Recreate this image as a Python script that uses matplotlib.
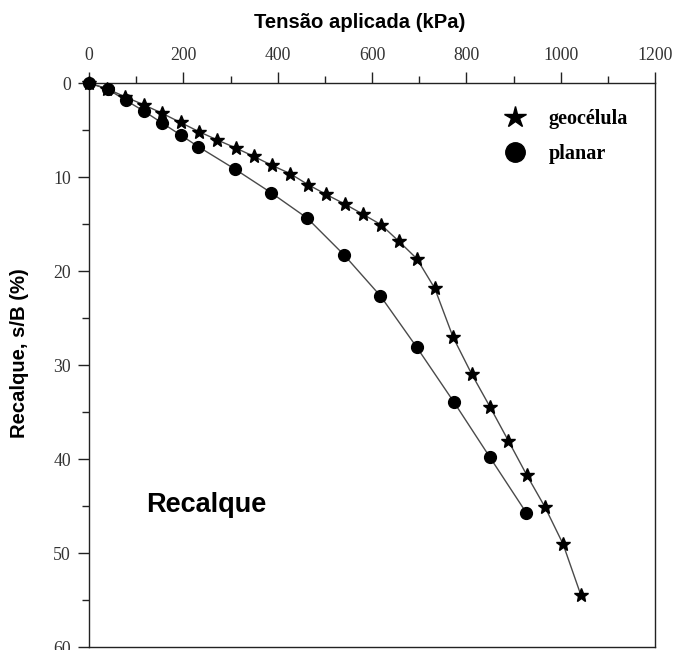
import matplotlib
matplotlib.use("Agg")
import matplotlib.pyplot as plt
from matplotlib.lines import Line2D
from matplotlib.ticker import MultipleLocator

# Data (Tensão aplicada in kPa, Recalque s/B in %)
geo_x = [0, 38, 76, 117, 155, 194, 233, 272, 311, 349, 387, 426, 464, 503, 542,
         580, 619, 657, 695, 733, 772, 811, 850, 889, 928, 967, 1005, 1043]
geo_y = [0, 0.6, 1.46, 2.34, 3.22, 4.20, 5.17, 6.06, 6.91, 7.80, 8.74, 9.63, 10.80,
         11.86, 12.87, 13.94, 15.07, 16.84, 18.69, 21.84, 27.05, 30.93, 34.44,
         38.05, 41.70, 45.14, 49.04, 54.50]

plan_x = [0, 40, 78, 116, 154, 195, 232, 310, 386, 463, 541, 618, 695, 774, 850, 927]
plan_y = [0, 0.67, 1.84, 2.98, 4.22, 5.56, 6.78, 9.18, 11.67, 14.39, 18.30, 22.66,
          28.12, 33.97, 39.82, 45.71]

xticks = [0, 200, 400, 600, 800, 1000, 1200]
yticks = [0, 10, 20, 30, 40, 50, 60]

fig = plt.figure(figsize=(6.73, 6.5), dpi=100)
ax = fig.add_axes([89/673, 1-647/650, 566/673, 564/650])

line_col = "#4a4a4a"
ax.plot(geo_x, geo_y, color=line_col, lw=1.0, zorder=2)
ax.plot(plan_x, plan_y, color=line_col, lw=1.0, zorder=2)
ax.plot(geo_x, geo_y, ls="none", marker="*", ms=10, color="black", zorder=3,
        clip_on=False)
ax.plot(plan_x, plan_y, ls="none", marker="o", ms=8.5, color="black", zorder=4,
        clip_on=False)

ax.set_xlim(0, 1200)
ax.set_ylim(60, 0)
ax.xaxis.tick_top()
ax.xaxis.set_label_position("top")
ax.set_xticks(xticks)
ax.set_yticks(yticks)
ax.xaxis.set_minor_locator(MultipleLocator(100))
ax.yaxis.set_minor_locator(MultipleLocator(5))

for lab in ax.get_xticklabels() + ax.get_yticklabels():
    lab.set_fontfamily("Liberation Serif")
    lab.set_fontsize(12.8)
ax.tick_params(axis="both", which="major", direction="out", length=8, width=1.0,
               colors="#222222", labelcolor="#333333")
ax.tick_params(axis="both", which="minor", direction="out", length=5, width=1.0,
               colors="#222222")
ax.tick_params(axis="x", which="major", pad=6)
ax.tick_params(axis="y", which="major", pad=5)

for sp in ax.spines.values():
    sp.set_color("#222222")
    sp.set_linewidth(1.0)

ax.set_xlabel("Tensão aplicada (kPa)", fontfamily="Liberation Sans",
              fontweight="bold", fontsize=14.6, va="center")
ax.xaxis.set_label_coords(0.479, 1.108)
ax.set_ylabel("Recalque, s/B (%)", fontfamily="Liberation Sans",
              fontweight="bold", fontsize=14.6, va="center")
ax.yaxis.set_label_coords(-0.122, 0.521)

ax.text(0.2067, 0.2518, "Recalque", transform=ax.transAxes, ha="center", va="center",
        fontfamily="Liberation Sans", fontweight="bold", fontsize=19.5)

handles = [Line2D([], [], ls="none", marker="*", ms=16, color="black"),
           Line2D([], [], ls="none", marker="o", ms=14, color="black")]
ax.legend(handles, ["geocélula", "planar"], loc="upper left",
          bbox_to_anchor=(0.735, 0.9545), frameon=False, borderpad=0,
          borderaxespad=0, handlelength=1.0, handletextpad=1.15, labelspacing=0.75,
          prop=dict(family="Liberation Serif", weight="bold", size=14.5))

fig.savefig("out.png", dpi=100)
